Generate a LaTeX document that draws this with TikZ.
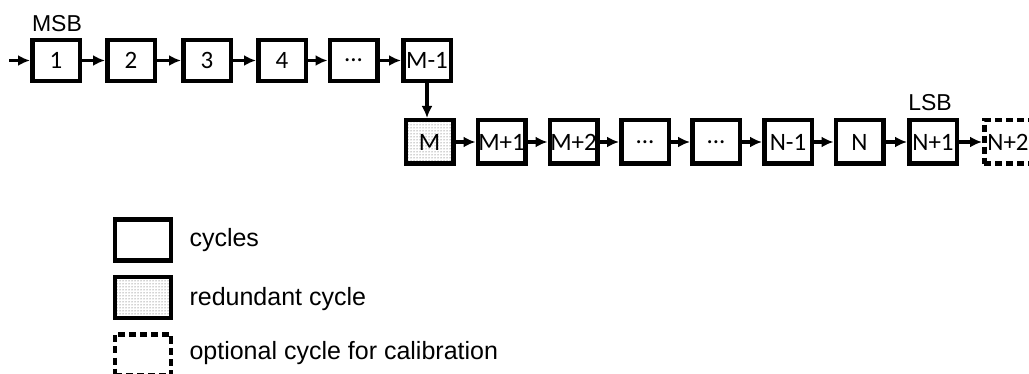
\documentclass[tikz,border=0pt]{standalone}
\usepackage{fontspec}
\setmainfont{Liberation Sans}
\newfontfamily\boxfont{Carlito}
\usetikzlibrary{arrows.meta,patterns}
\begin{document}
\begin{tikzpicture}[x=1pt,y=-1pt,
  cyc/.style={draw,line width=4.5pt,minimum width=47.5pt,minimum height=41pt,inner sep=0pt,font=\boxfont\fontsize{25}{25}\selectfont},
  cyc2/.style={cyc,minimum height=43.5pt},
  red/.style={pattern=dots,pattern color=black!75},
  opt/.style={dash pattern=on 7pt off 4pt},
  conn/.style={line width=3.5pt,-{Latex[length=12pt,width=11pt]}},
  lbl/.style={font=\fontsize{23}{23}\selectfont},
  leg/.style={font=\fontsize{25}{25}\selectfont,anchor=west}]
\clip (0,0) rectangle (1029,374);
\useasboundingbox (0,0) rectangle (1029,374);
% row 1
\node[cyc] (b1) at (56,60.5) {1};
\node[cyc] (b2) at (131,60.5) {2};
\node[cyc] (b3) at (207,60.5) {3};
\node[cyc] (b4) at (282,60.5) {4};
\node[cyc] (b5) at (353.5,60.5) {...};
\node[cyc] (b6) at (427,60.5) {M-1};
\coordinate (in) at (9,60.5);
\node[lbl] (msb) at (57,24) {MSB};
% row 2
\node[cyc2,red] (c1) at (429.5,142) {M};
\node[cyc2] (c2) at (501.5,142) {M+1};
\node[cyc2] (c3) at (573.5,142) {M+2};
\node[cyc2] (c4) at (645,142) {...};
\node[cyc2] (c5) at (716,142) {...};
\node[cyc2] (c6) at (788,142) {N-1};
\node[cyc2] (c7) at (859.5,142) {N};
\node[cyc2] (c8) at (933,142) {N+1};
\node[cyc2,opt] (c9) at (1008,142) {N+2};
\node[lbl] (lsb) at (930,103) {LSB};
% connectors
\draw[conn] (in) -- (b1);
\draw[conn] (b1) -- (b2);
\draw[conn] (b2) -- (b3);
\draw[conn] (b3) -- (b4);
\draw[conn] (b4) -- (b5);
\draw[conn] (b5) -- (b6);
\draw[conn] (b6.south) -- (b6.south |- c1.north);
\draw[conn] (c1) -- (c2);
\draw[conn] (c2) -- (c3);
\draw[conn] (c3) -- (c4);
\draw[conn] (c4) -- (c5);
\draw[conn] (c5) -- (c6);
\draw[conn] (c6) -- (c7);
\draw[conn] (c7) -- (c8);
\draw[conn] (c8) -- (c9);
% legend
\node[cyc,minimum width=56pt] (l1) at (143,240) {};
\node[cyc,minimum width=56pt,red] (l2) at (143,297.5) {};
\node[cyc,minimum width=56pt,opt] (l3) at (143,355) {};
\node[leg] (t1) at (186,240) {cycles};
\node[leg] (t2) at (186,299) {redundant cycle};
\node[leg] (t3) at (186,353) {optional cycle for calibration};
\end{tikzpicture}
\end{document}
